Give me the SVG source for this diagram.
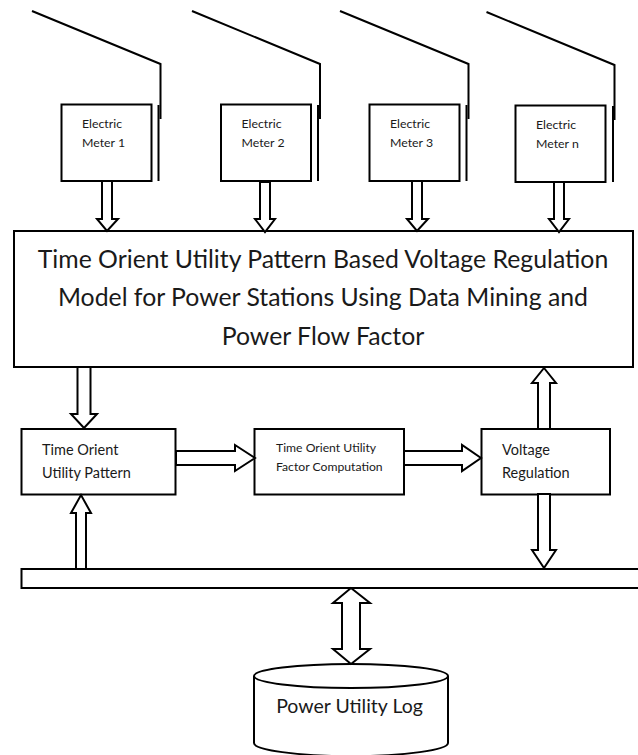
<svg xmlns="http://www.w3.org/2000/svg" width="638" height="755" viewBox="0 0 638 755">
<style>
text{font-family:"Lato","Open Sans","Liberation Sans",sans-serif;fill:#1a1a1a}
.b{fill:#fff;stroke:#000;stroke-width:2}
.w{fill:none;stroke:#000;stroke-width:2}
.a{fill:#fff;stroke:#000;stroke-width:2;stroke-linejoin:miter}
.m{font-size:12.300px}
.h{font-size:24.800px;text-anchor:middle}
.t{font-size:14.500px}
.s{font-size:12.200px}
</style>
<rect width="638" height="755" fill="#fff"/>
<g id="antenna-1"><path class="w" d="M32 11L160.500 64V119"/><path class="w" d="M158.500 105V181"/></g>
<g id="antenna-2"><path class="w" d="M192 11L320 64V119"/><path class="w" d="M318 105V181"/></g>
<g id="antenna-3"><path class="w" d="M340 11L468.500 64V119"/><path class="w" d="M466.500 105V181"/></g>
<g id="antenna-n"><path class="w" d="M486.500 12L614.500 65V120"/><path class="w" d="M613 106V182"/></g>
<g id="meter-1"><rect class="b" x="61.500" y="104.500" width="90" height="76.500"/><text class="m" x="82" y="128">Electric</text><text class="m" x="82" y="147">Meter 1</text></g>
<g id="meter-2"><rect class="b" x="221" y="104.500" width="90" height="76.500"/><text class="m" x="241.500" y="128">Electric</text><text class="m" x="241.500" y="147">Meter 2</text></g>
<g id="meter-3"><rect class="b" x="369.500" y="104.500" width="90" height="76.500"/><text class="m" x="390" y="128">Electric</text><text class="m" x="390" y="147">Meter 3</text></g>
<g id="meter-n"><rect class="b" x="515.500" y="105.500" width="90" height="76.500"/><text class="m" x="536" y="129">Electric</text><text class="m" x="536" y="148">Meter n</text></g>
<g id="model"><rect class="b" x="14" y="231" width="619" height="136"/>
<text class="h" x="323" y="268">Time Orient Utility Pattern Based Voltage Regulation</text>
<text class="h" x="323" y="306">Model for Power Stations Using Data Mining and</text>
<text class="h" x="323" y="345">Power Flow Factor</text></g>
<g id="time-orient-utility-pattern"><rect class="b" x="21.500" y="429" width="154" height="65.500"/><text class="t" x="42" y="455">Time Orient</text><text class="t" x="42" y="478">Utility Pattern</text></g>
<g id="factor-computation"><rect class="b" x="254.500" y="429" width="149.500" height="65.500"/><text class="s" x="276" y="452">Time Orient Utility</text><text class="s" x="276" y="471">Factor Computation</text></g>
<g id="voltage-regulation"><rect class="b" x="481.500" y="429" width="128.500" height="65.500"/><text class="t" x="502" y="455">Voltage</text><text class="t" x="502" y="478">Regulation</text></g>
<g id="bus"><path class="b" d="M640 569H21.500V588H640"/></g>
<g id="power-utility-log"><path class="b" d="M254 676V743C254 750 297 756 351 756C405 756 448 750 448 743V676"/><ellipse class="b" cx="351" cy="676" rx="97" ry="12"/><text x="349.500" y="713" font-size="19.500" text-anchor="middle">Power Utility Log</text></g>
<g id="connectors">
<path class="a" d="M102 181V219H97L107 231L118 219H112V181Z"/>
<path class="a" d="M260 182V219H255L265 232L275 219H270V182Z"/>
<path class="a" d="M412 181V219H407L417 231L428 219H422V181Z"/>
<path class="a" d="M554 182V219H549L559 232L569 219H564V182Z"/>
<path class="a" d="M77.500 367V414H71L84 428L97 414H90.500V367Z"/>
<path class="a" d="M76 569V513H71L81 495L91 513H86V569Z"/>
<path class="a" d="M176 451H235V445L255 458L235 471V465H176Z"/>
<path class="a" d="M404 451H462V445L481 458L462 471V465H404Z"/>
<path class="a" d="M538 429V383H532L544 368L556 383H550V429Z"/>
<path class="a" d="M538 494V550H532L544 568L556 550H550V494Z"/>
<path class="a" d="M342 603H333L351 588L370 603H360V649H370L351 664L333 649H342Z"/>
</g>
</svg>
